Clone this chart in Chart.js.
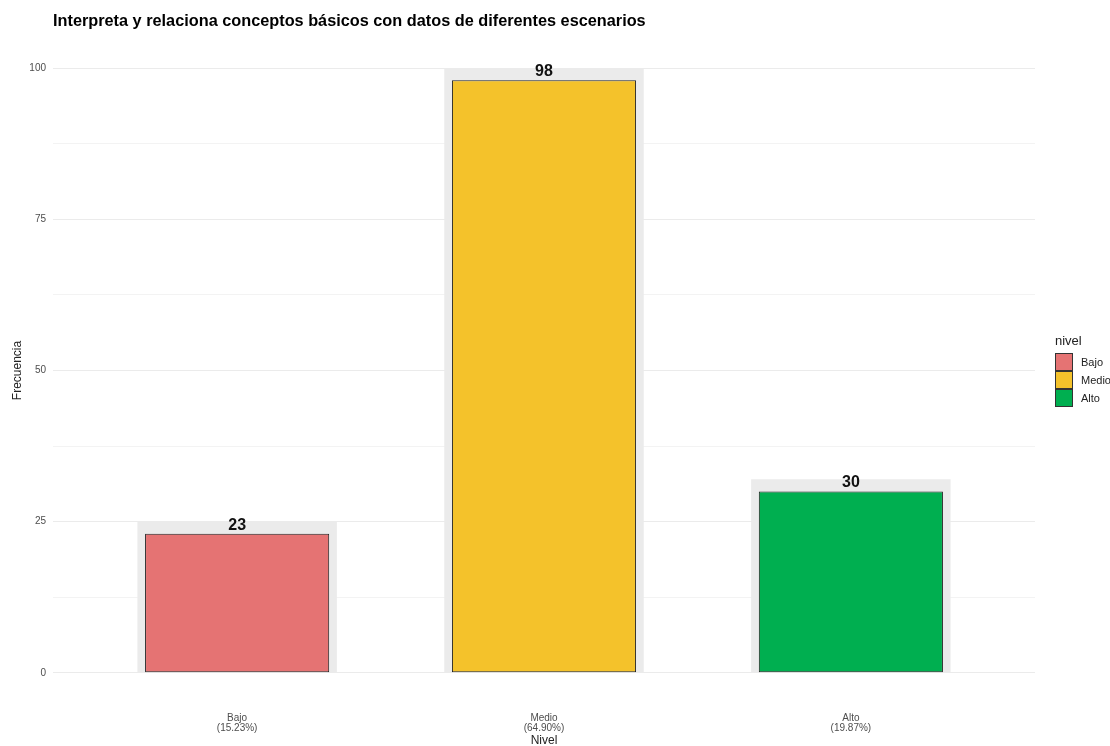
<!DOCTYPE html>
<html>
<head>
<meta charset="utf-8">
<script src="https://cdn.jsdelivr.net/npm/chart.js@4/dist/chart.umd.min.js"></script>
<style>
  html, body { margin: 0; padding: 0; background: #fff; }
  #wrap { width: 1110px; height: 746px; position: relative; }
</style>
</head>
<body>
<div id="wrap"><canvas id="nivelChart" width="1110" height="746"></canvas></div>
<script>
const niveles = ['Bajo', 'Medio', 'Alto'];
const frecuencias = [23, 98, 30];
const porcentajes = ['15.23%', '64.90%', '19.87%'];
const colores = ['#E57373', '#F4C22B', '#00AF50'];
const yTicks = [0, 25, 50, 75, 100];

const FONT = '"Liberation Sans", Arial, sans-serif';
const PAD_LABEL = 2; // grey box behind each bar sits this much higher

// title, axis titles, value labels and the legend
const decor = {
    id: 'decor',
    afterDatasetsDraw(chart) {
        const ctx = chart.ctx;
        const x = chart.scales.x, y = chart.scales.y;
        ctx.save();
        ctx.textAlign = 'center';
        ctx.textBaseline = 'bottom';
        ctx.fillStyle = '#111';
        ctx.font = 'bold 16px ' + FONT;
        frecuencias.forEach((v, i) => {
            ctx.fillText(String(v), x.getPixelForValue(i), y.getPixelForValue(v) - 0.5);
        });
        ctx.restore();
    },
    afterDraw(chart) {
        const ctx = chart.ctx;
        const area = chart.chartArea;
        ctx.save();
        ctx.fillStyle = '#000';
        ctx.textBaseline = 'middle';
        ctx.textAlign = 'left';
        ctx.font = 'bold 16.3px ' + FONT;
        ctx.fillText('Interpreta y relaciona conceptos básicos con datos de diferentes escenarios', 53, 22);

        ctx.font = '12px ' + FONT;
        ctx.textAlign = 'center';
        ctx.fillStyle = '#222';
        ctx.fillText('Nivel', (area.left + area.right) / 2, 741);
        ctx.save();
        ctx.translate(18, (area.top + area.bottom) / 2);
        ctx.rotate(-Math.PI / 2);
        ctx.fillText('Frecuencia', 0, 0);
        ctx.restore();

        // legend
        ctx.textAlign = 'left';
        ctx.fillStyle = '#222';
        ctx.font = '13px ' + FONT;
        ctx.fillText('nivel', 1055, 341);
        ctx.font = '11px ' + FONT;
        niveles.forEach((n, i) => {
            const top = 353 + i * 18;
            ctx.fillStyle = colores[i];
            ctx.fillRect(1055.5, top + 0.5, 17, 17);
            ctx.strokeStyle = '#333';
            ctx.lineWidth = 1;
            ctx.strokeRect(1055.5, top + 0.5, 17, 17);
            ctx.fillStyle = '#222';
            ctx.fillText(n, 1081, top + 9.5);
        });
        ctx.restore();
    }
};

const ctx = document.getElementById('nivelChart').getContext('2d');
const nivelChart = new Chart(ctx, {
    type: 'bar',
    data: {
        datasets: [{
            label: 'nivel',
            data: frecuencias.map((v, i) => ({ x: i, y: v })),
            backgroundColor: colores,
            borderColor: '#222',
            borderWidth: 1,
            borderSkipped: false,
            barPercentage: 0.6,
            categoryPercentage: 1,
            grouped: false,
            order: 1
        }, {
            label: 'fondo',
            data: frecuencias.map((v, i) => ({ x: i, y: v + PAD_LABEL })),
            backgroundColor: '#EBEBEB',
            borderWidth: 0,
            barPercentage: 0.65,
            categoryPercentage: 1,
            grouped: false,
            order: 2
        }]
    },
    plugins: [decor],
    options: {
        responsive: false,
        animation: false,
        devicePixelRatio: 1,
        layout: { padding: { top: 38, right: 75, bottom: 0, left: 0 } },
        plugins: {
            legend: { display: false },
            tooltip: { enabled: false },
            title: { display: false }
        },
        scales: {
            x: {
                type: 'linear',
                min: -0.6,
                max: niveles.length - 0.4,
                offset: false,
                grid: { display: false, drawTicks: false },
                border: { display: false },
                afterBuildTicks(s) {
                    s.ticks = niveles.map((n, i) => ({ value: i }));
                },
                ticks: {
                    color: '#4D4D4D',
                    font: { family: FONT, size: 10, lineHeight: 1.0 },
                    padding: 10,
                    maxRotation: 0,
                    autoSkip: false,
                    callback: v => [niveles[v], '(' + porcentajes[v] + ')']
                },
                afterFit(s) { s.height = 43; }
            },
            y: {
                min: -5,
                max: 105,
                border: { display: false },
                afterBuildTicks(s) {
                    const t = [];
                    for (let i = 0; i < yTicks.length; i++) {
                        t.push({ value: yTicks[i] });
                        if (i < yTicks.length - 1) t.push({ value: (yTicks[i] + yTicks[i + 1]) / 2 });
                    }
                    s.ticks = t;
                },
                grid: {
                    drawTicks: false,
                    color: '#EBEBEB',
                    lineWidth: c => (yTicks.includes(c.tick.value) ? 1 : 0.6)
                },
                ticks: {
                    color: '#4D4D4D',
                    font: { family: FONT, size: 10 },
                    padding: 7,
                    callback: v => (yTicks.includes(v) ? String(v) : '')
                },
                afterFit(s) { s.width = 53; }
            }
        }
    }
});
</script>
</body>
</html>
